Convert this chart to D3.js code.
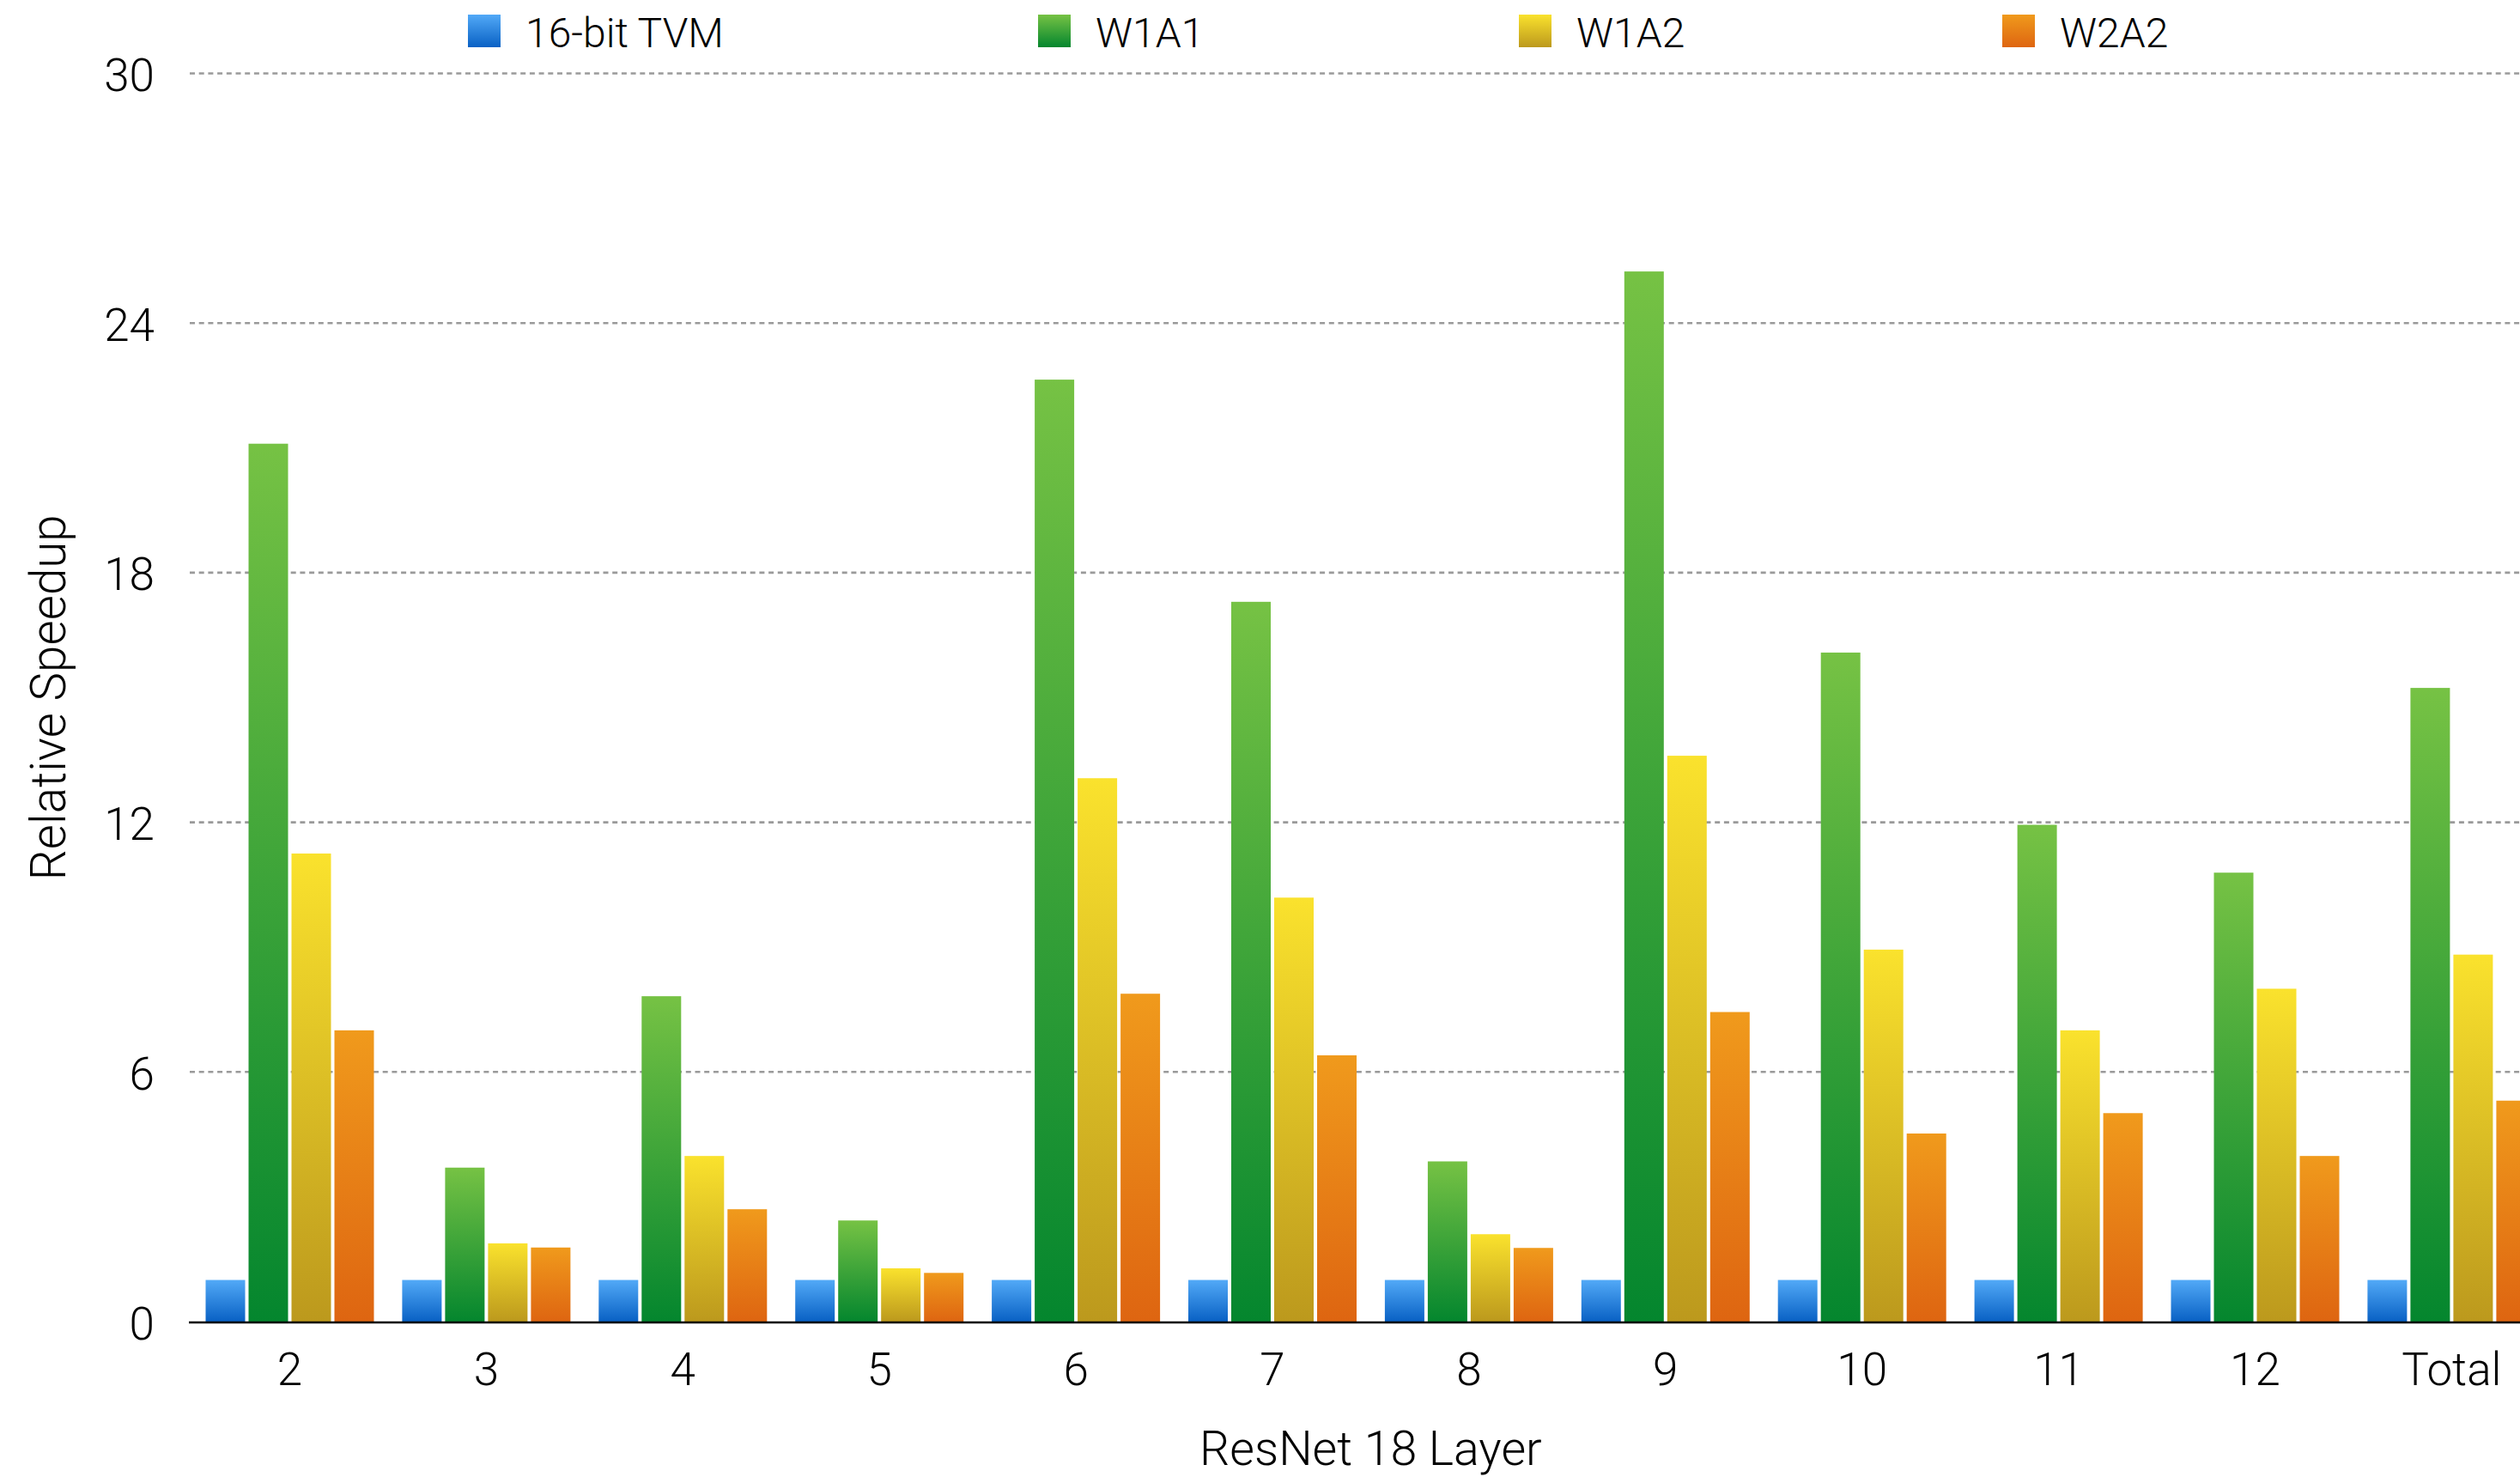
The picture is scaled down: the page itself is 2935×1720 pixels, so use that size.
<!DOCTYPE html>
<html>
<head>
<meta charset="utf-8">
<script src="https://cdn.jsdelivr.net/npm/d3@7"></script>
<style>
  html, body { margin: 0; padding: 0; background: #fff; }
  svg { display: block; }
  text { font-family: Roboto, "Liberation Sans", sans-serif; font-weight: 300; fill: #000; }
</style>
</head>
<body>
<svg id="chart" width="2935" height="1720"></svg>
<script>
// ResNet-18 per-layer relative speedup over 16-bit TVM baseline
const categories = ["2", "3", "4", "5", "6", "7", "8", "9", "10", "11", "12", "Total"];
const seriesNames = ["16-bit TVM", "W1A1", "W1A2", "W2A2"];
const tvm16  = [1, 1, 1, 1, 1, 1, 1, 1, 1, 1, 1, 1];
const w1a1   = [21.1, 3.7, 7.82, 2.43, 22.64, 17.3, 3.85, 25.24, 16.08, 11.94, 10.79, 15.23];
const w1a2   = [11.25, 1.88, 3.98, 1.28, 13.06, 10.19, 2.1, 13.6, 8.94, 7.0, 8.0, 8.82];
const w2a2   = [7.0, 1.78, 2.7, 1.17, 7.88, 6.4, 1.77, 7.44, 4.52, 5.01, 3.98, 5.31];
const yTicks = [0, 6, 12, 18, 24, 30];
const seriesValues = [tvm16, w1a1, w1a2, w2a2];

// gradient stops (top, bottom) per series
const gradients = [
  ["#52a9f7", "#0961c4"],
  ["#76c244", "#04862e"],
  ["#fae22d", "#bc991d"],
  ["#f09a1c", "#de6511"]
];

const W = 2935, H = 1720;
const plotLeft = 221, y0px = 1539, y30px = 85.5;
const step = 228.9;
const bandStart = 337.5 - step / 2;

const svg = d3.select("#chart");

const x0 = d3.scaleBand()
  .domain(categories)
  .range([bandStart, bandStart + step * categories.length])
  .padding(0);

const x1 = d3.scaleBand()
  .domain(seriesNames)
  .range([x0.bandwidth() / 2 - 98, x0.bandwidth() / 2 + 98])
  .paddingInner(0.08)
  .paddingOuter(0);

const y = d3.scaleLinear().domain([0, 30]).range([y0px, y30px]);

// gradient defs
const defs = svg.append("defs");
seriesNames.forEach((s, i) => {
  const g = defs.append("linearGradient")
    .attr("id", "grad" + i)
    .attr("x1", 0).attr("y1", 0).attr("x2", 0).attr("y2", 1);
  g.append("stop").attr("offset", "0%").attr("stop-color", gradients[i][0]);
  g.append("stop").attr("offset", "100%").attr("stop-color", gradients[i][1]);
});

// dashed gridlines
svg.append("g").selectAll("line")
  .data(yTicks.filter(d => d > 0))
  .join("line")
  .attr("x1", plotLeft).attr("x2", W)
  .attr("y1", d => y(d)).attr("y2", d => y(d))
  .attr("stroke", "#9a9a9a")
  .attr("stroke-width", 2.6)
  .attr("stroke-dasharray", "6 4.7");

// bars
const rows = categories.map((c, ci) => ({
  cat: c,
  vals: seriesNames.map((s, si) => ({ s, si, v: seriesValues[si][ci] }))
}));

svg.append("g").selectAll("g")
  .data(rows)
  .join("g")
  .attr("transform", d => `translate(${x0(d.cat)},0)`)
  .selectAll("rect")
  .data(d => d.vals)
  .join("rect")
  .attr("x", d => x1(d.s))
  .attr("width", x1.bandwidth())
  .attr("y", d => y(d.v))
  .attr("height", d => y(0) - y(d.v))
  .attr("fill", d => `url(#grad${d.si})`);

// baseline
svg.append("line")
  .attr("x1", plotLeft - 1).attr("x2", W)
  .attr("y1", y(0) + 1).attr("y2", y(0) + 1)
  .attr("stroke", "#000").attr("stroke-width", 2.6);

// y axis labels
const yAxis = d3.axisLeft(y).tickValues(yTicks).tickSize(0).tickPadding(0);
const yg = svg.append("g").attr("transform", "translate(180,0)").call(yAxis);
yg.select(".domain").remove();
yg.selectAll("text")
  .attr("x", 0).attr("dy", null).attr("y", 20)
  .attr("text-anchor", "end")
  .style("font-size", "53px").style("font-family", null);

// x axis labels
const xAxis = d3.axisBottom(x0).tickSize(0).tickPadding(0);
const xg = svg.append("g").attr("transform", `translate(0,${y0px})`).call(xAxis);
xg.select(".domain").remove();
xg.selectAll("text")
  .attr("y", 74).attr("dy", null)
  .style("font-size", "53px").style("font-family", null);

// axis titles
svg.append("text")
  .attr("x", (x0.range()[0] + x0.range()[1]) / 2)
  .attr("y", 1706)
  .attr("text-anchor", "middle")
  .style("font-size", "55.5px")
  .text("ResNet 18 Layer");

svg.append("text")
  .attr("transform", `translate(76,${(y(0) + y(30)) / 2}) rotate(-90)`)
  .attr("text-anchor", "middle")
  .style("font-size", "56.5px")
  .text("Relative Speedup");

// legend
const legendX = [545, 1209, 1769, 2332];
const lg = svg.append("g").selectAll("g")
  .data(seriesNames)
  .join("g")
  .attr("transform", (d, i) => `translate(${legendX[i]},0)`);
lg.append("rect")
  .attr("x", 0).attr("y", 17).attr("width", 38).attr("height", 38)
  .attr("fill", (d, i) => `url(#grad${i})`);
lg.append("text")
  .attr("x", 67).attr("y", 55)
  .style("font-size", "48px")
  .text(d => d);
</script>
</body>
</html>
